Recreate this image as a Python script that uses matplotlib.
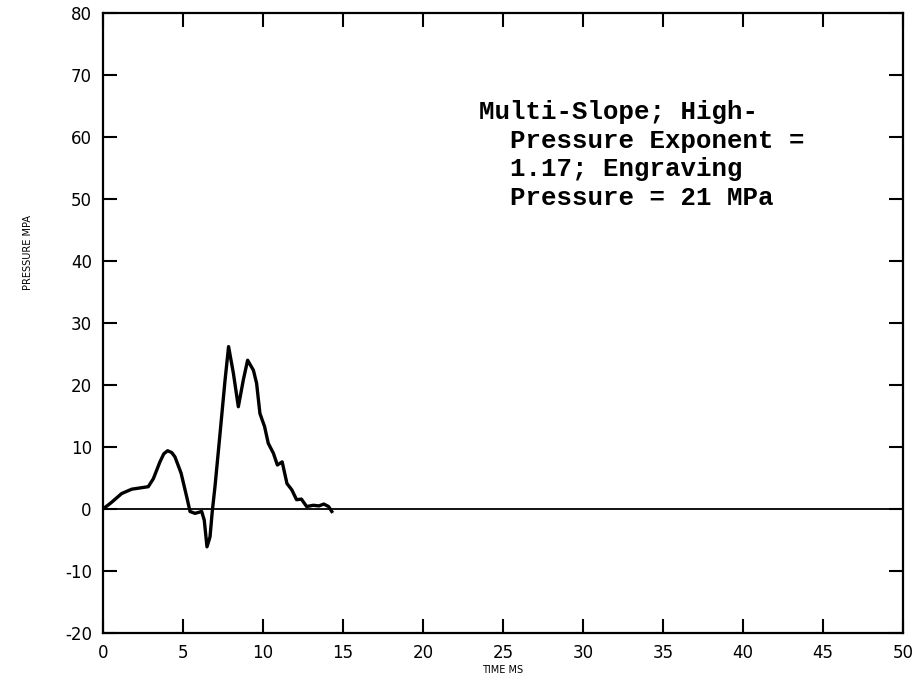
import matplotlib
import matplotlib.pyplot as plt

matplotlib.use('Agg')
plt.rcParams['axes.unicode_minus'] = False

# pressure trace (time in ms, pressure in MPa)
time_ms = [0.0, 0.5, 1.17, 1.8, 2.83, 3.15, 3.56, 3.8, 4.04, 4.3, 4.5, 4.88,
           5.23, 5.44, 5.75, 6.17, 6.33, 6.5, 6.69, 6.83, 7.0, 7.31, 7.63,
           7.85, 8.15, 8.46, 8.77, 9.04, 9.4, 9.6, 9.81, 10.1, 10.33, 10.65,
           10.9, 11.2, 11.5, 11.8, 12.1, 12.4, 12.73, 13.15, 13.5, 13.8, 14.1,
           14.3]
pressure = [0.0, 1.0, 2.5, 3.2, 3.6, 4.9, 7.6, 8.9, 9.4, 9.1, 8.4, 5.8,
            2.0, -0.4, -0.7, -0.4, -1.8, -6.1, -4.5, -0.4, 3.6, 12.0, 20.8,
            26.2, 21.9, 16.5, 20.8, 24.0, 22.4, 20.3, 15.4, 13.3, 10.6, 9.0,
            7.1, 7.6, 4.1, 3.1, 1.5, 1.6, 0.4, 0.6, 0.5, 0.8, 0.4, -0.4]

x_ticks = [0, 5, 10, 15, 20, 25, 30, 35, 40, 45, 50]
y_ticks = [-20, -10, 0, 10, 20, 30, 40, 50, 60, 70, 80]
note = "Multi-Slope; High-\n  Pressure Exponent =\n  1.17; Engraving\n  Pressure = 21 MPa"

fig = plt.figure(figsize=(9.17, 6.87), dpi=100)
ax = fig.add_axes([0.1123, 0.0786, 0.8724, 0.9024])

ax.axhline(0, color='black', linewidth=1.3)
ax.plot(time_ms, pressure, color='black', linewidth=2.4)

ax.set_xlim(0, 50)
ax.set_ylim(-20, 80)
ax.set_xticks(x_ticks)
ax.set_yticks(y_ticks)
ax.tick_params(direction='in', length=10, width=1.5, top=True, right=True,
               labelsize=12, pad=8)
for s in ax.spines.values():
    s.set_linewidth(1.6)

ax.text(23.5, 66, note, family='Liberation Mono', fontweight='bold',
        fontsize=18.5, va='top', ha='left', linespacing=1.25)

fig.text(0.03, 0.633, "PRESSURE MPA", rotation=90, fontsize=7,
         ha='center', va='center')
fig.text(0.548, 0.025, "TIME MS", fontsize=7, ha='center', va='center')

plt.savefig('out.png')
